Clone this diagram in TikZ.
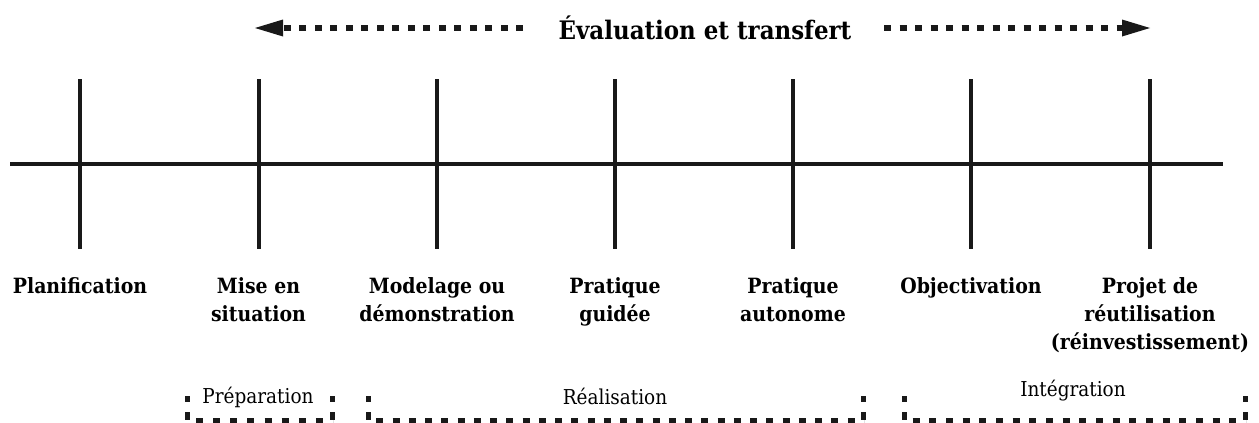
\documentclass[tikz,border=0pt]{standalone}
\usepackage{fontspec}
\setmainfont{DejaVu Serif Condensed}
\usetikzlibrary{arrows.meta,decorations}
\begin{document}
\begin{tikzpicture}[x=1pt,y=-1pt,
  axis/.style={line width=4pt,color=black!90},
  dotted line/.style={line width=5.5pt,color=black!90,dash pattern=on 7pt off 8.5pt},
  phase/.style={font=\fontsize{21}{28}\selectfont\bfseries,align=center,anchor=north,inner sep=0pt},
  group/.style={font=\fontsize{20.5}{24}\selectfont,inner sep=0pt,anchor=base},
  bracket/.style={line width=5pt,color=black!90,dash pattern=on 7pt off 9pt,dash expand off},
  stub/.style={line width=5pt,color=black!90}]
\useasboundingbox (0,0) rectangle (1259,423);

% top title with two dashed arrows
\node[font=\fontsize{25.5}{30}\selectfont\bfseries,inner sep=0pt] (title) at (705,28) {Évaluation et transfert};
\coordinate (lstart) at (523,28);
\coordinate (ltip) at (255,28);
\coordinate (rstart) at (884,28);
\coordinate (rtip) at (1150,28);
\draw[dotted line] (lstart) -- (283,28);
\draw[dotted line] (rstart) -- (1122,28);
\fill[black!90] (ltip) -- (283,19.5) -- (283,36.5) -- cycle;
\fill[black!90] (rtip) -- (1122,19.5) -- (1122,36.5) -- cycle;

% main time line
\coordinate (a0) at (10,164);
\coordinate (a1) at (1223,164);
\draw[axis] (a0) -- (a1);

% steps
\foreach \x/\n/\t in {80/p1/Planification,
                      258.5/p2/{Mise en\\situation},
                      437/p3/{Modelage ou\\démonstration},
                      615/p4/{Pratique\\guidée},
                      793/p5/{Pratique\\autonome},
                      971/p6/Objectivation,
                      1150/p7/{Projet de\\réutilisation\\(réinvestissement)}}{
  \coordinate (\n t) at (\x,79);
  \coordinate (\n b) at (\x,249);
  \draw[axis] (\n t) -- (\n b);
  \node[phase] (\n) at (\x,277) {\t};
}

% groups of steps
\node[group] (prep) at (258,403) {Préparation};
\node[group] (real) at (615,404) {Réalisation};
\node[group] (integ) at (1073,396) {Intégration};
\foreach \l/\r in {187/332, 368/863, 904/1245}{
  \draw[bracket] (\l-1,420) -- (\r+1,420);
  \draw[stub] (\l,396) -- (\l,401.5);
  \draw[stub] (\r,396) -- (\r,401.5);
  \draw[stub] (\l,412) -- (\l,420);
  \draw[stub] (\r,412) -- (\r,420);
}
\end{tikzpicture}
\end{document}
